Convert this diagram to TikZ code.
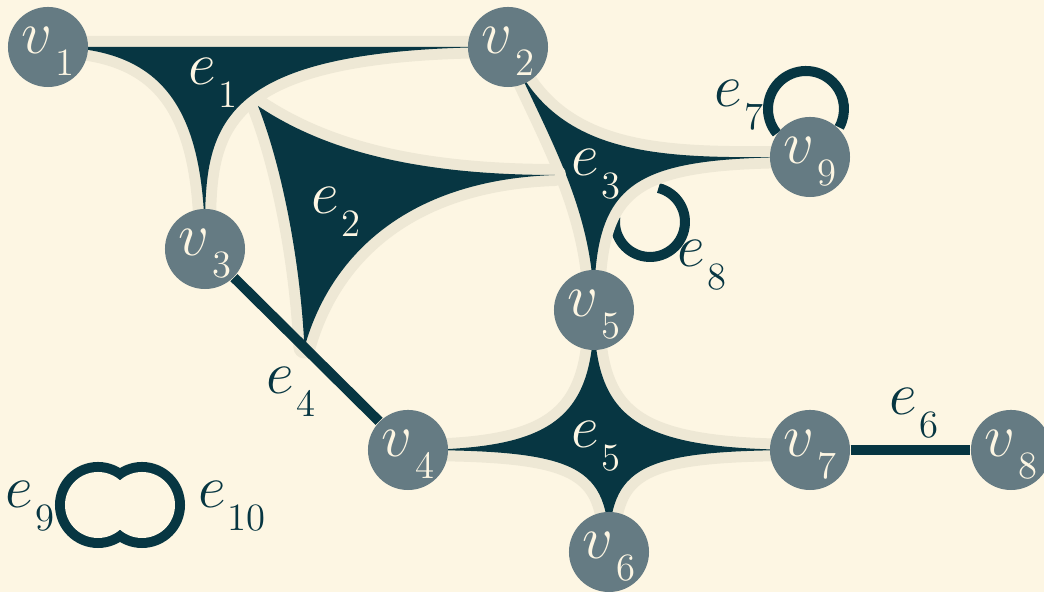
\documentclass[tikz,border=0pt]{standalone}
\usepackage{tikz}
\usetikzlibrary{calc}
\definecolor{cream}{HTML}{FDF6E3}
\definecolor{halo}{HTML}{EEE8D5}
\definecolor{ink}{HTML}{073642}
\definecolor{slate}{HTML}{657B83}
\pgfdeclarelayer{back}\pgfdeclarelayer{edges}
\pgfsetlayers{back,edges,main}
\newcommand{\hlab}[2]{$#1$\kern.6pt\raisebox{-6.5pt}{\fontsize{11}{11}\selectfont#2}}
\begin{document}
\begin{tikzpicture}[x=0.01cm,y=-0.01cm,
vert/.style={circle,fill=slate,text=cream,minimum size=0.8cm,inner sep=0pt,font=\fontsize{18}{18}\selectfont,text height=10pt,text depth=6.5pt},
elab/.style={inner sep=0pt,text=ink,font=\fontsize{18}{18}\selectfont},
hyper/.style={fill=ink,preaction={draw=halo,line width=0.22cm,line join=round}},
link/.style={draw=ink,line width=0.1cm}]
\useasboundingbox (0,0) rectangle (1044,592);
\node[vert](v1) at (48,47){\hlab{v}{1}};
\node[vert](v2) at (508,47){\hlab{v}{2}};
\node[vert](v3) at (205,249){\hlab{v}{3}};
\node[vert](v4) at (408,450){\hlab{v}{4}};
\node[vert](v5) at (594,310){\hlab{v}{5}};
\node[vert](v6) at (609,552){\hlab{v}{6}};
\node[vert](v7) at (810,450){\hlab{v}{7}};
\node[vert](v8) at (1011,450){\hlab{v}{8}};
\node[vert](v9) at (810,157){\hlab{v}{9}};
\coordinate (e2a) at (258,106);
\coordinate (e2b) at (555,175);
\coordinate (e2c) at ($(v3)!0.49!(v4)$);
\coordinate (o7) at (806,109);
\coordinate (o8) at (650,222);
\coordinate (o9) at (98,505);
\coordinate (o10) at (142,505);
\begin{pgfonlayer}{back}
\fill[cream] (0,0) rectangle (1044,592);
\end{pgfonlayer}
\begin{pgfonlayer}{edges}
\fill[hyper](v1.center)--(v2.center) .. controls +(-310,0) and +(0,-115) .. (v3.center) .. controls +(0,-141) and +(116,0) .. (v1.center)--cycle;
\draw[link](o8) +(284:35) arc[start angle=284,end angle=548,radius=35];
\fill[hyper](v2.center) .. controls +(47,120) and +(-130,0) .. (v9.center) .. controls +(-180,0) and +(0,-130) .. (v5.center) .. controls +(0,-100) and +(40,90) .. (v2.center)--cycle;
\fill[hyper](e2a) .. controls +(60,40) and +(-150,0) .. (e2b) .. controls +(-150,5) and +(25,-90) .. (e2c) .. controls +(-5,-100) and +(20,50) .. (e2a)--cycle;
\fill[hyper](v4.center) .. controls +(145,0) and +(0,109) .. (v5.center) .. controls +(0,112) and +(-173,0) .. (v7.center) .. controls +(-171,0) and +(0,-87) .. (v6.center) .. controls +(0,-87) and +(171,0) .. (v4.center)--cycle;
\draw[link](v3)--(v4);\draw[link](v7)--(v8);
\draw[link](o7) +(140:38) arc[start angle=140,end angle=389,radius=38];
\draw[ink,line width=0.2cm](o9) circle[radius=33] (o10) circle[radius=33];
\fill[cream](o9) circle[radius=33] (o10) circle[radius=33];
\end{pgfonlayer}
\node[elab,text=cream](e1) at (213,83){\hlab{e}{1}};
\node[elab,text=cream](e2) at (336,212){\hlab{e}{2}};
\node[elab,text=cream](e3) at (596,174){\hlab{e}{3}};
\node[elab](e4) at (291,392){\hlab{e}{4}};
\node[elab,text=cream](e5) at (596,446){\hlab{e}{5}};
\node[elab](e6) at (914,413){\hlab{e}{6}};
\node[elab](e7) at (739,105){\hlab{e}{7}};
\node[elab](e8) at (702,265){\hlab{e}{8}};
\node[elab](e9) at (30,506){\hlab{e}{9}};
\node[elab](e10) at (232,506){\hlab{e}{10}};
\end{tikzpicture}
\end{document}
